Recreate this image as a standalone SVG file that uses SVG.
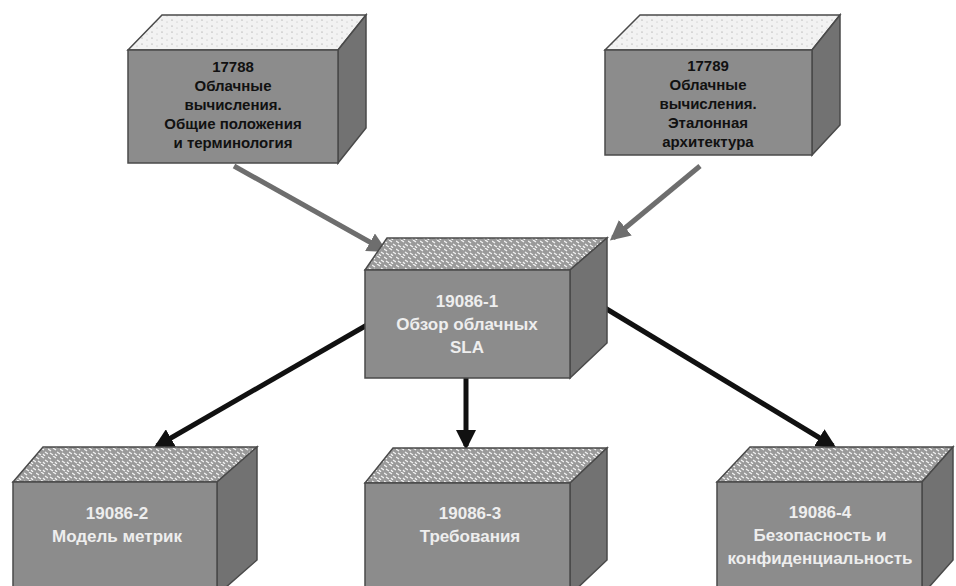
<svg xmlns="http://www.w3.org/2000/svg" width="956" height="586" viewBox="0 0 956 586">
<defs>
<pattern id="speck" width="12" height="8" patternUnits="userSpaceOnUse">
<rect width="12" height="8" fill="#9a9a9a"/>
<path d="M0 1 L3 3 M5 0 L8 2 M9 4 L12 6 M2 5 L5 7 M7 6 L9 8" stroke="#f4f4f4" stroke-width="1.3"/>
</pattern>
<pattern id="light" width="10" height="6" patternUnits="userSpaceOnUse">
<rect width="10" height="6" fill="#f2f2f2"/>
<circle cx="2" cy="2" r="0.6" fill="#8a8a8a"/>
<circle cx="7" cy="4" r="0.5" fill="#b0b0b0"/>
</pattern>
<marker id="ahG" markerWidth="4" markerHeight="4" refX="3.2" refY="2" orient="auto" markerUnits="strokeWidth">
<path d="M0 0 L4 2 L0 4 Z" fill="#6e6e6e"/>
</marker>
<marker id="ahB" markerWidth="4" markerHeight="4" refX="3.2" refY="2" orient="auto" markerUnits="strokeWidth">
<path d="M0 0 L4 2 L0 4 Z" fill="#111"/>
</marker>
</defs>
<style>
.front{fill:#8c8c8c;stroke:#4a4a4a;stroke-width:1.5}
.side{fill:#727272;stroke:#4a4a4a;stroke-width:1.5}
.topS{fill:url(#speck);stroke:#4a4a4a;stroke-width:1.5}
.topL{fill:url(#light);stroke:#4a4a4a;stroke-width:1.5}
.td{font-family:"Liberation Sans",Arial,sans-serif;font-weight:bold;font-size:15px;fill:#111;text-anchor:middle}
.tw{font-family:"Liberation Sans",Arial,sans-serif;font-weight:bold;font-size:17px;fill:#eeeeee;text-anchor:middle}
.cg{stroke:#6e6e6e;stroke-width:5;fill:none}
.cb{stroke:#111;stroke-width:5;fill:none}
</style>
<rect width="956" height="586" fill="#ffffff"/>

<g id="connectors">
<line class="cg" x1="234" y1="166" x2="384" y2="250" marker-end="url(#ahG)"/>
<line class="cg" x1="700" y1="166" x2="613" y2="238" marker-end="url(#ahG)"/>
<line class="cb" x1="367" y1="325" x2="157" y2="446" marker-end="url(#ahB)"/>
<line class="cb" x1="466" y1="378" x2="466" y2="446" marker-end="url(#ahB)"/>
<line class="cb" x1="605" y1="308" x2="833" y2="446" marker-end="url(#ahB)"/>
</g>

<g id="n17788">
<polygon class="topL" points="128,50 162,15 366,15 338,50"/>
<polygon class="side" points="338,50 366,15 366,128 338,163"/>
<rect class="front" x="128" y="50" width="210" height="113"/>
<text class="td" x="233" y="72">17788</text>
<text class="td" x="233" y="91">Облачные</text>
<text class="td" x="233" y="110">вычисления.</text>
<text class="td" x="233" y="129">Общие положения</text>
<text class="td" x="233" y="148">и терминология</text>
</g>

<g id="n17789">
<polygon class="topL" points="605,50 640,15 840,15 812,50"/>
<polygon class="side" points="812,50 840,15 840,125 812,155"/>
<rect class="front" x="605" y="50" width="207" height="105"/>
<text class="td" x="708" y="71">17789</text>
<text class="td" x="708" y="90">Облачные</text>
<text class="td" x="708" y="109">вычисления.</text>
<text class="td" x="708" y="128">Эталонная</text>
<text class="td" x="708" y="147">архитектура</text>
</g>

<g id="n19086-1">
<polygon class="topS" points="365,270 387,238 607,238 570,270"/>
<polygon class="side" points="570,270 607,238 607,343 570,378"/>
<rect class="front" x="365" y="270" width="205" height="108"/>
<text class="tw" x="467" y="307">19086-1</text>
<text class="tw" x="467" y="330">Обзор облачных</text>
<text class="tw" x="467" y="353">SLA</text>
</g>

<g id="n19086-2">
<polygon class="topS" points="13,482 43,447 257,447 217,482"/>
<polygon class="side" points="217,482 257,447 257,560 217,595"/>
<rect class="front" x="13" y="482" width="204" height="110"/>
<text class="tw" x="117" y="519">19086-2</text>
<text class="tw" x="117" y="542">Модель метрик</text>
</g>

<g id="n19086-3">
<polygon class="topS" points="365,483 393,448 607,448 570,483"/>
<polygon class="side" points="570,483 607,448 607,560 570,595"/>
<rect class="front" x="365" y="483" width="205" height="110"/>
<text class="tw" x="470" y="519">19086-3</text>
<text class="tw" x="470" y="542">Требования</text>
</g>

<g id="n19086-4">
<polygon class="topS" points="717,482 750,447 953,447 922,482"/>
<polygon class="side" points="922,482 953,447 953,560 922,595"/>
<rect class="front" x="717" y="482" width="205" height="110"/>
<text class="tw" x="820" y="518">19086-4</text>
<text class="tw" x="820" y="541">Безопасность и</text>
<text class="tw" x="820" y="564">конфиденциальность</text>
</g>
</svg>
